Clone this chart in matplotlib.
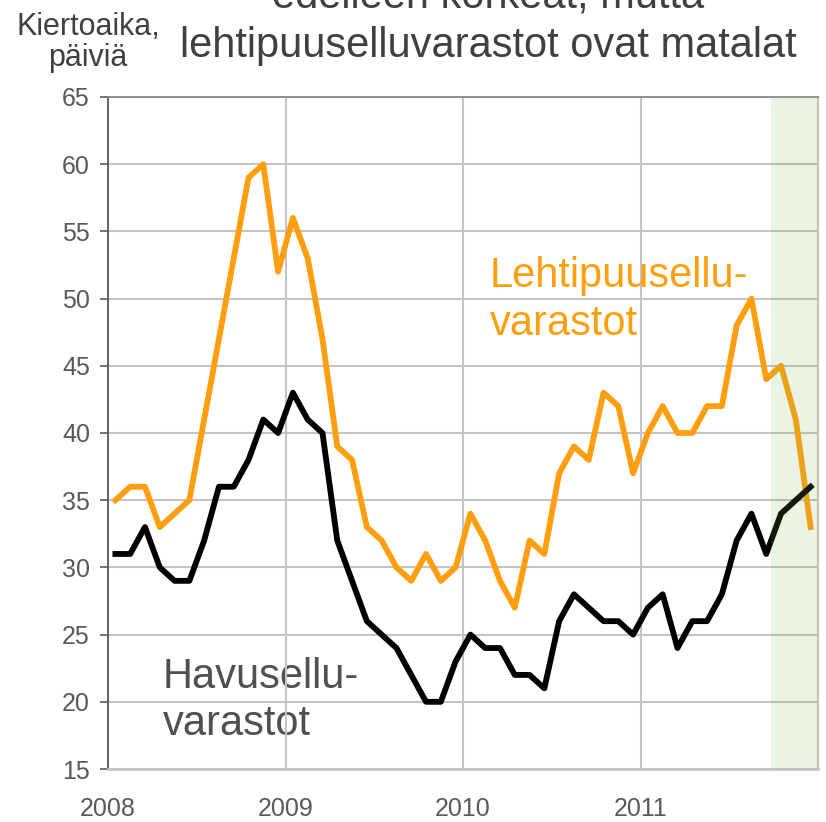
import numpy as np
import matplotlib
matplotlib.use("Agg")
import matplotlib.pyplot as plt

plt.rcParams['font.family'] = ['Liberation Sans', 'DejaVu Sans']

# monthly data 2008-01 ... 2011-12, kiertoaika in days
lehtipuu = [35, 36, 36, 33, 34, 35, 41, 47, 53, 59, 60, 52,
            56, 53, 47, 39, 38, 33, 32, 30, 29, 31, 29, 30,
            34, 32, 29, 27, 32, 31, 37, 39, 38, 43, 42, 37,
            40, 42, 40, 40, 42, 42, 48, 50, 44, 45, 41, 33]
havu = [31, 31, 33, 30, 29, 29, 32, 36, 36, 38, 41, 40,
        43, 41, 40, 32, 29, 26, 25, 24, 22, 20, 20, 23,
        25, 24, 24, 22, 22, 21, 26, 28, 27, 26, 26, 25,
        27, 28, 24, 26, 26, 28, 32, 34, 31, 34, 35, 36]
years = ["2008", "2009", "2010", "2011"]
yticks = [15, 20, 25, 30, 35, 40, 45, 50, 55, 60, 65]

orange = '#FF9F10'
grey_txt = '#595959'

x = np.arange(len(havu))

fig = plt.figure(figsize=(8.26, 8.22), dpi=100)
ax = fig.add_axes([108/826, 1-769/822, 710/826, 672/822])

ax.plot(x, lehtipuu, color=orange, lw=4.2, zorder=3)
ax.plot(x, havu, color='black', lw=4.2, zorder=3)

# shaded forecast area, drawn on top of the lines
ax.axvspan(44.3, 47.5, color=(122/255, 175/255, 75/255), alpha=0.15, lw=0, zorder=4)

ax.set_xlim(-0.5, 47.5)
ax.set_ylim(15, 65)
ax.set_yticks(yticks)
ax.set_xticks([-0.5 + 12*i for i in range(len(years))])
ax.set_xticklabels(years)

ax.grid(True, color='#c4c4c4', lw=1.5, zorder=1)
ax.set_axisbelow(True)

ax.tick_params(axis='y', direction='out', length=6, width=1.2, color=grey_txt,
               labelsize=18, labelcolor=grey_txt, pad=7)
ax.tick_params(axis='x', length=0, labelsize=18, labelcolor=grey_txt, pad=20)

ax.spines['left'].set_color(grey_txt)
ax.spines['left'].set_linewidth(1.3)
ax.spines['top'].set_color('#8a8a8a')
ax.spines['top'].set_linewidth(1.3)
ax.spines['right'].set_color('#c4c4c4')
ax.spines['right'].set_linewidth(1.5)
ax.spines['bottom'].set_color('#c4c4c4')
ax.spines['bottom'].set_linewidth(2)

ax.text(25.3, 49.9, "Lehtipuusellu-\nvarastot", color=orange, fontsize=30,
        ha='left', va='center', linespacing=1.25, zorder=2)
ax.text(3.2, 20.1, "Havusellu-\nvarastot", color='#505050', fontsize=30,
        ha='left', va='center', linespacing=1.25, zorder=0.5)

fig.text(88/826, 1-66/822, "Kiertoaika,\npäiviä", color='#404040', fontsize=22,
         ha='center', va='baseline', linespacing=1.05)
fig.text(488/826, 1-57/822, "edelleen korkeat, mutta\nlehtipuuselluvarastot ovat matalat",
         color='#404040', fontsize=30, ha='center', va='baseline', linespacing=1.3)

fig.savefig("out.png", dpi=100)
